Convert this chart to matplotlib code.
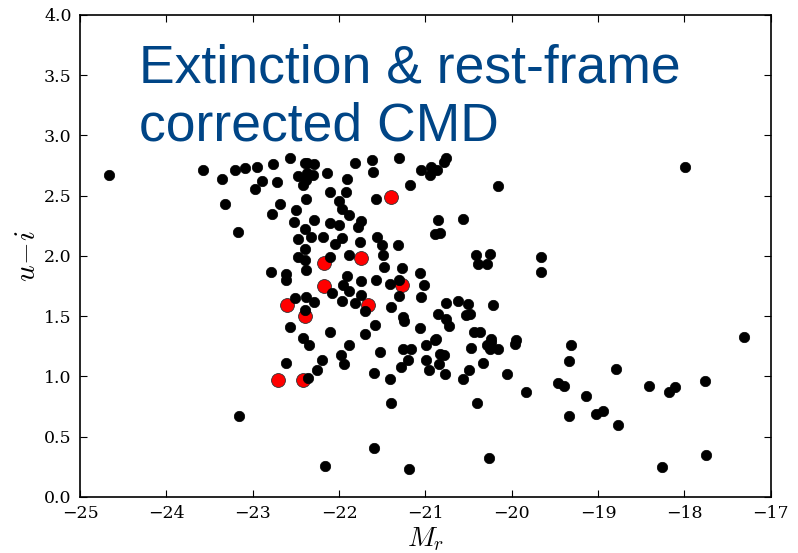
#!/usr/bin/env python3
import matplotlib

matplotlib.use("Agg")
from matplotlib import pyplot as plt

# absolute r-band magnitude and u-i colour of the full sample
mr_all = [
    -24.66, -23.58, -23.36, -23.21, -23.09, -22.95, -22.76, -22.57, -22.97, -22.89,
    -22.72, -23.32, -23.17, -22.78, -22.68, -22.50, -22.52, -22.29, -22.40, -22.32,
    -22.47, -22.39, -22.47, -22.39, -22.38, -22.79, -22.62, -22.61, -22.38, -22.29,
    -22.51, -22.40, -22.57, -22.42, -22.40, -22.37, -22.29, -22.47, -22.37, -22.30,
    -22.42, -22.38, -22.38, -22.14, -21.91, -21.92, -22.10, -21.81, -21.62, -21.61,
    -21.30, -21.05, -20.93, -20.87, -20.95, -20.79, -20.76, -21.18, -21.57, -22.00,
    -21.96, -21.89, -21.74, -21.78, -22.10, -22.00, -22.19, -21.96, -22.05, -21.76,
    -21.56, -21.50, -21.49, -21.32, -21.88, -22.11, -21.48, -21.27, -21.06, -21.91,
    -21.95, -21.88, -22.08, -21.74, -21.57, -21.41, -21.30, -21.02, -21.05, -21.30,
    -21.97, -21.82, -21.74, -21.70, -21.40, -21.26, -21.25, -21.58, -21.06, -22.11,
    -21.70, -20.76, -20.62, -20.51, -20.85, -20.76, -20.73, -20.53, -20.48, -20.22,
    -20.44, -20.37, -20.85, -20.56, -20.89, -20.83, -20.41, -20.25, -20.39, -20.29,
    -20.16, -17.99, -19.66, -19.66, -20.24, -20.88, -19.95, -17.31, -22.35, -22.62,
    -22.26, -22.20, -22.36, -23.16, -21.88, -21.98, -21.94, -21.52, -21.26, -21.17,
    -21.20, -21.28, -21.60, -21.41, -20.99, -20.89, -20.99, -20.96, -20.83, -20.79,
    -20.84, -20.77, -20.56, -20.50, -20.47, -20.29, -20.24, -20.25, -20.16, -20.33,
    -21.40, -20.40, -21.59, -22.16, -21.19, -20.26, -19.96, -20.05, -19.83, -19.31,
    -19.34, -19.46, -19.39, -19.14, -19.02, -18.94, -19.34, -18.79, -18.77, -18.41,
    -18.18, -18.11, -17.76, -18.26, -17.75,
]
ui_all = [
    2.67, 2.71, 2.64, 2.71, 2.73, 2.74, 2.76, 2.81, 2.56, 2.62,
    2.61, 2.43, 2.20, 2.35, 2.43, 2.38, 2.28, 2.30, 2.22, 2.16,
    2.14, 2.06, 1.99, 1.97, 1.88, 1.87, 1.85, 1.80, 1.66, 1.62,
    1.65, 1.55, 1.41, 1.32, 2.77, 2.77, 2.76, 2.66, 2.69, 2.67,
    2.59, 2.63, 2.47, 2.69, 2.64, 2.53, 2.53, 2.77, 2.80, 2.70,
    2.81, 2.71, 2.74, 2.71, 2.67, 2.78, 2.81, 2.59, 2.47, 2.46,
    2.39, 2.34, 2.29, 2.24, 2.27, 2.26, 2.16, 2.15, 2.10, 2.12,
    2.16, 2.09, 2.01, 2.09, 2.01, 1.99, 1.91, 1.90, 1.86, 1.83,
    1.76, 1.71, 1.69, 1.79, 1.80, 1.77, 1.80, 1.76, 1.66, 1.67,
    1.63, 1.61, 1.68, 1.54, 1.58, 1.49, 1.46, 1.43, 1.40, 1.37,
    1.35, 1.61, 1.63, 1.60, 1.52, 1.48, 1.42, 1.51, 1.52, 1.59,
    1.37, 1.37, 2.30, 2.31, 2.18, 2.19, 2.01, 2.02, 1.93, 1.93,
    2.58, 2.74, 1.99, 1.87, 1.31, 1.31, 1.30, 1.33, 1.26, 1.11,
    1.05, 1.14, 0.99, 0.67, 1.26, 1.18, 1.10, 1.20, 1.23, 1.23,
    1.14, 1.08, 1.03, 0.98, 1.26, 1.30, 1.14, 1.05, 1.19, 1.18,
    1.10, 1.02, 0.98, 1.05, 1.24, 1.26, 1.29, 1.23, 1.23, 1.11,
    0.78, 0.78, 0.41, 0.26, 0.23, 0.32, 1.27, 1.02, 0.87, 1.26,
    1.13, 0.95, 0.92, 0.84, 0.69, 0.71, 0.67, 1.06, 0.60, 0.92,
    0.87, 0.91, 0.96, 0.25, 0.35,
]

# highlighted subsample
mr_sel = [-21.40, -21.74, -22.18, -22.18, -21.27, -21.67, -22.60, -22.40, -22.71, -22.42]
ui_sel = [2.49, 1.98, 1.94, 1.75, 1.76, 1.59, 1.59, 1.50, 0.97, 0.97]

XTICKS = list(range(-25, -16))
YTICKS = [0.0, 0.5, 1.0, 1.5, 2.0, 2.5, 3.0, 3.5, 4.0]

plt.rcParams["mathtext.fontset"] = "cm"
plt.rcParams["font.family"] = "DejaVu Serif"

fig = plt.figure(figsize=(7.98, 5.53), dpi=100)
ax = fig.add_axes([0.1003, 0.1013, 0.8655, 0.8716])

ax.scatter(mr_sel, ui_sel, s=100, c="red", edgecolors="#333333", linewidths=0.6, zorder=2)
ax.scatter(mr_all, ui_all, s=56, c="black", edgecolors="black", linewidths=0.5, zorder=3)

ax.set_xlim(-25, -17)
ax.set_ylim(0, 4)
ax.set_xticks(XTICKS)
ax.set_yticks(YTICKS)
ax.set_yticklabels([f"{t:.1f}" for t in YTICKS])
ax.tick_params(direction="in", top=True, right=True, length=5, width=0.8,
               labelsize=12.5, pad=6)
for spine in ax.spines.values():
    spine.set_linewidth(1.2)

ax.set_xlabel(r"$M_r$", fontsize=20, labelpad=2)
ax.set_ylabel(r"$u\!-\!i$", fontsize=21, labelpad=2)

ax.text(0.086, 0.94, "Extinction & rest-frame\ncorrected CMD", transform=ax.transAxes,
        fontsize=38.5, color="#004586", family="Liberation Sans", va="top", ha="left",
        linespacing=1.2)

fig.savefig("out.png", dpi=100)
